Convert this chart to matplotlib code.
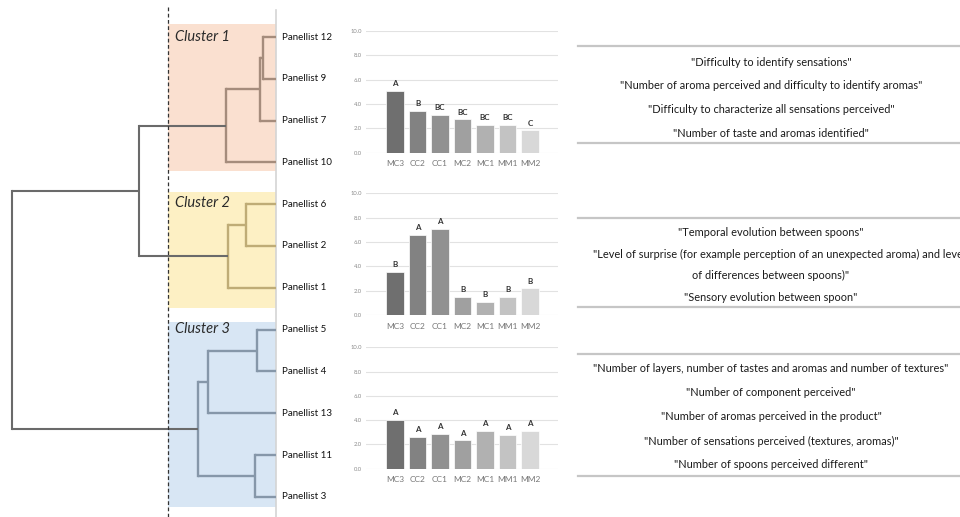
import matplotlib
matplotlib.use("Agg")
import matplotlib.pyplot as plt
from matplotlib.patches import Rectangle

plt.rcParams['font.family'] = ['Lato', 'DejaVu Sans']

# dendrogram: leaves top to bottom, merges as (child a, child b, height)
leaves = ["Panellist 12", "Panellist 9", "Panellist 7", "Panellist 10",
          "Panellist 6", "Panellist 2", "Panellist 1",
          "Panellist 5", "Panellist 4", "Panellist 13", "Panellist 11", "Panellist 3"]
leaf_cluster = [0, 0, 0, 0, 1, 1, 1, 2, 2, 2, 2, 2]
merges = [(0, 1, 13), (12, 2, 16), (13, 3, 50),
          (4, 5, 30), (15, 6, 48),
          (7, 8, 19), (17, 9, 68), (10, 11, 21), (18, 19, 78),
          (14, 16, 137), (21, 20, 264)]
cut_height = 108
cluster_names = ["Cluster 1", "Cluster 2", "Cluster 3"]

# mean scores per product for each cluster
products = ["MC3", "CC2", "CC1", "MC2", "MC1", "MM1", "MM2"]
c1_means = [5.1, 3.45, 3.1, 2.75, 2.3, 2.3, 1.85]
c1_letters = ["A", "B", "BC", "BC", "BC", "BC", "C"]
c2_means = [3.55, 6.6, 7.1, 1.5, 1.1, 1.5, 2.2]
c2_letters = ["B", "A", "A", "B", "B", "B", "B"]
c3_means = [4.0, 2.65, 2.85, 2.35, 3.1, 2.8, 3.1]
c3_letters = ["A", "A", "A", "A", "A", "A", "A"]
y_ticks = [0, 2, 4, 6, 8, 10]

c1_quotes = ['"Difficulty to identify sensations"',
             '"Number of aroma perceived and difficulty to identify aromas"',
             '"Difficulty to characterize all sensations perceived"',
             '"Number of taste and aromas identified"']
c2_quotes = ['"Temporal evolution between spoons"',
             '"Level of surprise (for example perception of an unexpected aroma) and level',
             'of differences between spoons)"',
             '"Sensory evolution between spoon"']
c3_quotes = ['"Number of layers, number of tastes and aromas and number of textures"',
             '"Number of component perceived"',
             '"Number of aromas perceived in the product"',
             '"Number of sensations perceived (textures, aromas)"',
             '"Number of spoons perceived different"']

W, H = 960, 517
bg_colors = ["#fae0d0", "#fdf0c4", "#d8e6f4"]
line_colors = ["#a58c7c", "#bfac76", "#8697a9"]
top_color = "#6a6a6a"
bar_colors = ["#6f6f6f", "#828282", "#919191", "#a0a0a0", "#b1b1b1", "#c3c3c3", "#d8d8d8"]

fig = plt.figure(figsize=(W / 100, H / 100), dpi=100)

# overlay in pixel coords for backgrounds, separators and quotes
ov = fig.add_axes([0, 0, 1, 1])
ov.set_xlim(0, W)
ov.set_ylim(H, 0)
ov.axis("off")

bg_boxes = [(24, 171), (192, 308), (322, 507)]
for k, (y0, y1) in enumerate(bg_boxes):
    ov.add_patch(Rectangle((168, y0), 108, y1 - y0, fc=bg_colors[k], ec="none", zorder=0))
ov.plot([276, 276], [10, H], color="#d4d4d4", lw=1.2, zorder=1)


def pos(x):
    return x / W


def ypos(y0, y1):
    return 1 - y1 / H, (y1 - y0) / H


# dendrogram axes: leaf i at y = 37 + 41.8 i px, height 0 at x = 276 px
dax = fig.add_axes([0, 0, pos(276), 1])
dax.set_xlim(276, 0)
step = 41.8
top_leaf = 37
dax.set_ylim((H - top_leaf) / step, -top_leaf / step)
dax.axis("off")
dax.patch.set_alpha(0)

node_y = {i: float(i) for i in range(len(leaves))}
node_h = {i: 0.0 for i in range(len(leaves))}
node_cl = {i: leaf_cluster[i] for i in range(len(leaves))}
for m, (a, b, h) in enumerate(merges):
    n = len(leaves) + m
    same = node_cl[a] == node_cl[b] and node_cl[a] is not None
    cl = node_cl[a] if (same and h < cut_height) else None
    col = line_colors[cl] if cl is not None else top_color
    lw = 1.7 if cl is not None else 1.5
    for c in (a, b):
        dax.plot([node_h[c], h], [node_y[c], node_y[c]], color=col, lw=lw,
                 solid_capstyle="butt", zorder=3)
    dax.plot([h, h], [node_y[a], node_y[b]], color=col, lw=lw, zorder=3)
    node_y[n] = (node_y[a] + node_y[b]) / 2
    node_h[n] = h
    node_cl[n] = cl

dax.plot([cut_height, cut_height], [(7 - top_leaf) / step, (H - top_leaf) / step],
         color="#333333", lw=0.9, ls=(0, (3, 2)), zorder=4)

for i, name in enumerate(leaves):
    dax.text(-6, i, name, fontsize=7, va="center", ha="left", color="#111111", clip_on=False)

label_rows = [0, 4, 7]
for k, r in enumerate(label_rows):
    dax.text(cut_height - 7, r - 0.02 if k else r, cluster_names[k], fontsize=10.5, style="italic",
             va="center", ha="left", color="#2a2a2a", zorder=5)


def bar_panel(y_top, y_zero, means, letters):
    b, h = ypos(y_top, y_zero)
    ax = fig.add_axes([pos(366), b, pos(558) - pos(366), h])
    ax.set_xlim(-1.29, 7.24)
    ax.set_ylim(0, 10)
    for t in y_ticks:
        ax.axhline(t, color="#e2e2e2", lw=0.8, zorder=0)
    x = range(len(products))
    ax.bar(x, means, width=0.78, color=bar_colors, edgecolor="white", lw=0.5, zorder=2)
    for i, (v, s) in enumerate(zip(means, letters)):
        ax.text(i, v + 0.3, s, ha="center", va="bottom", fontsize=5.8,
                fontweight="bold", color="#333333")
    ax.set_xticks(list(x))
    ax.set_xticklabels(products, fontsize=6, color="#777777")
    ax.set_yticks(y_ticks)
    ax.set_yticklabels([f"{t:.1f}" for t in y_ticks], fontsize=4.2, color="#8a8a8a")
    ax.tick_params(length=0, pad=3)
    ax.tick_params(axis="x", pad=5.5)
    for s in ax.spines.values():
        s.set_visible(False)
    ax.patch.set_alpha(0)
    return ax


bar_panel(31, 152.7, c1_means, c1_letters)
bar_panel(193.3, 315, c2_means, c2_letters)
bar_panel(347.3, 468.7, c3_means, c3_letters)


def quote_block(y_top, y_bot, first, gap, quotes, left_rows=()):
    ov.plot([578, W], [y_top, y_top], color="#c6c6c6", lw=1.6)
    ov.plot([578, W], [y_bot, y_bot], color="#c6c6c6", lw=1.6)
    for i, q in enumerate(quotes):
        if i in left_rows:
            ov.text(593, first + i * gap, q, fontsize=7.9, ha="left", va="center", color="#1a1a1a")
        else:
            ov.text(771, first + i * gap, q, fontsize=7.9, ha="center", va="center", color="#1a1a1a")


quote_block(46, 143, 62, 23.7, c1_quotes)
quote_block(218, 307, 232.5, 21.7, c2_quotes, left_rows=(1,))
quote_block(354, 476, 369, 24, c3_quotes)

fig.savefig("out.png", dpi=100)
